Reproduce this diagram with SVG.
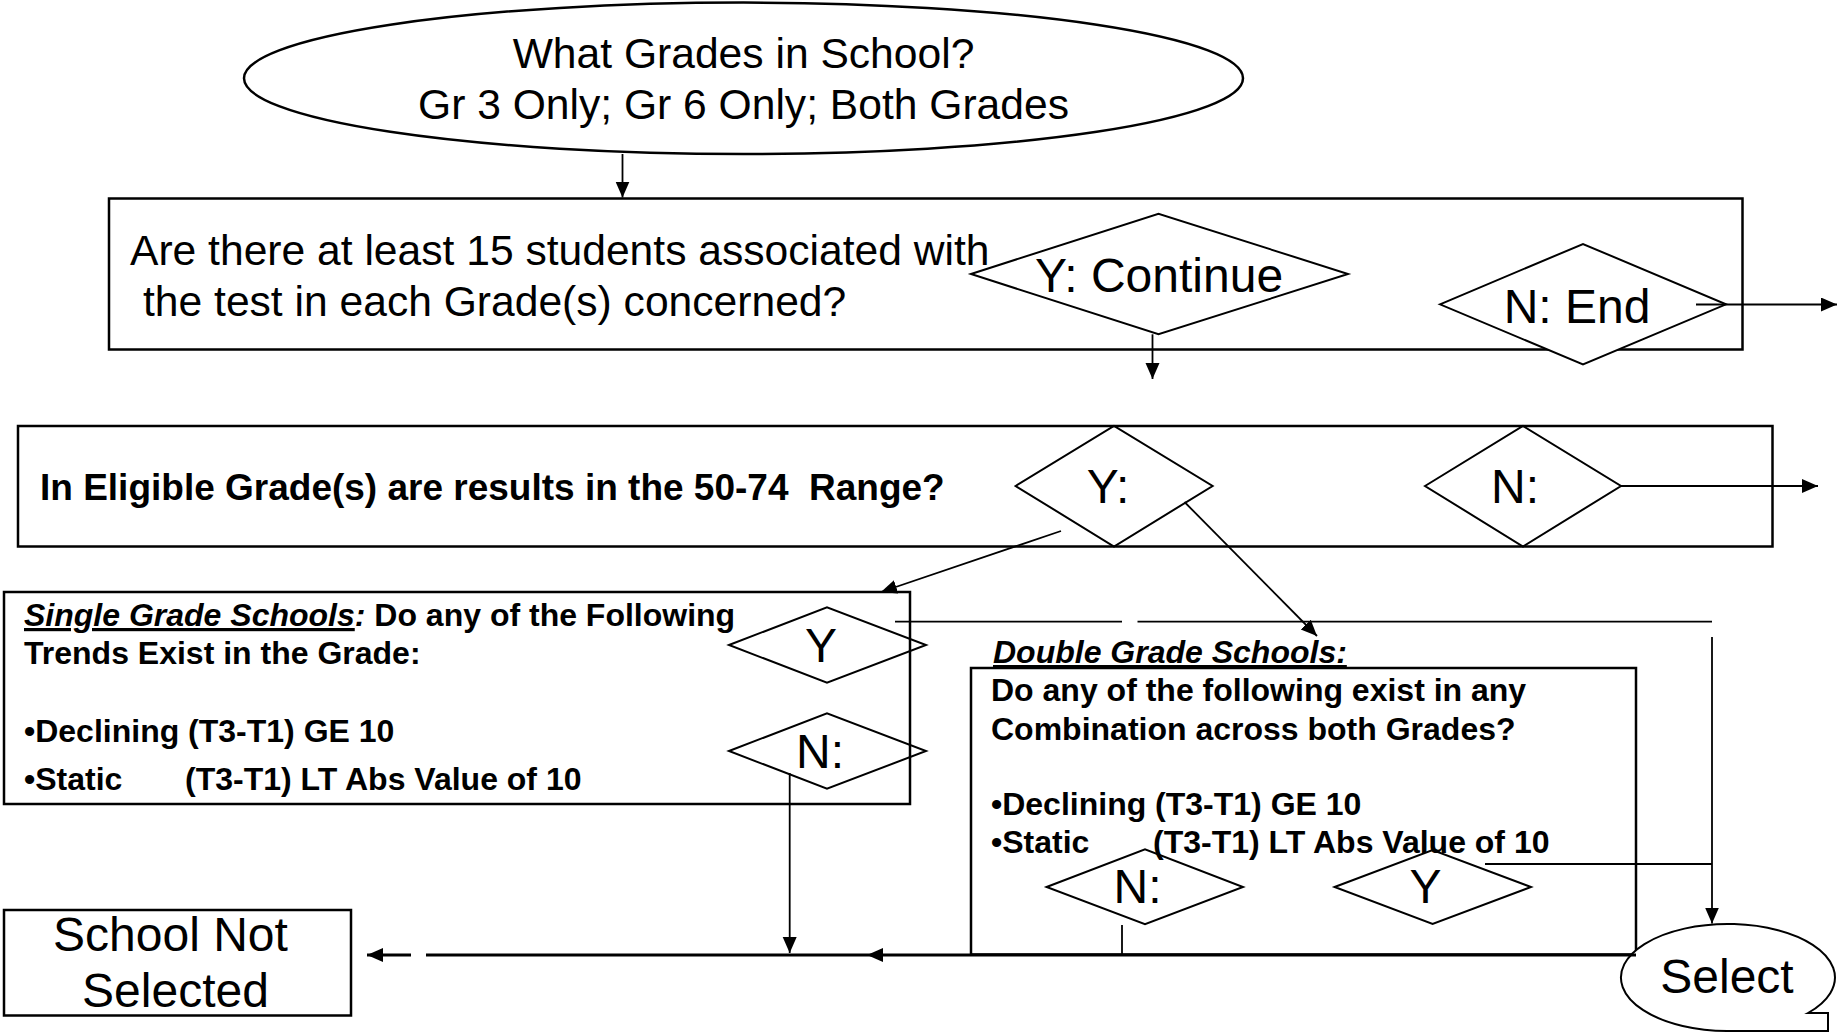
<svg xmlns="http://www.w3.org/2000/svg" width="1839" height="1034" viewBox="0 0 1839 1034">
<style>
text{font-family:"Liberation Sans",Arial,sans-serif;fill:#000}
.t{font-size:42.6px}
.d{font-size:48px}
.b{font-size:32px;font-weight:bold;white-space:pre}
.bb{font-size:37px;font-weight:bold;white-space:pre}
.box{fill:#fff;stroke:#000;stroke-width:2.5}
.dia{fill:none;stroke:#000;stroke-width:2}
.con{fill:none;stroke:#000;stroke-width:1.8}
.main{fill:none;stroke:#000;stroke-width:3}
</style>
<defs>
<marker id="ah" markerUnits="userSpaceOnUse" markerWidth="18" markerHeight="16" refX="16" refY="7" orient="auto">
<path d="M0,0 L16,7 L0,14 Z" fill="#000"/>
</marker>
</defs>
<rect width="1839" height="1034" fill="#fff"/>

<g id="start">
<ellipse cx="743.5" cy="78.3" rx="499.5" ry="75.7" class="box" stroke-width="2"/>
<text class="t" x="743.5" y="68" text-anchor="middle">What Grades in School?</text>
<text class="t" x="743.5" y="119" text-anchor="middle">Gr 3 Only; Gr 6 Only; Both Grades</text>
</g>

<g id="q1">
<rect x="109" y="198.5" width="1633.5" height="151" class="box"/>
<text class="t" x="130" y="265">Are there at least 15 students associated with</text>
<text class="t" x="143" y="316">the test in each Grade(s) concerned?</text>
</g>

<g id="q1-yes">
<polygon points="971,274 1158.5,213.7 1348,274 1158.5,334.3" class="dia"/>
<text class="d" x="1159" y="292" text-anchor="middle">Y: Continue</text>
</g>

<g id="q1-no">
<polygon points="1440,304.3 1583,244 1726,304.3 1583,364.5" class="dia" style="fill:#fff"/>
<text class="d" x="1577" y="322.5" text-anchor="middle">N: End</text>
</g>

<g id="q2">
<rect x="18" y="426" width="1754.5" height="120.5" class="box"/>
<text class="bb" x="40" y="500">In Eligible Grade(s) are results in the 50-74  Range?</text>
</g>

<g id="q2-yes">
<polygon points="1015.6,486 1114,426 1212.6,486 1114,546.5" class="dia"/>
<text class="d" x="1108" y="503" text-anchor="middle">Y:</text>
</g>

<g id="q2-no">
<polygon points="1425,486 1523,426 1621,486 1523,546.5" class="dia"/>
<text class="d" x="1515" y="503" text-anchor="middle">N:</text>
</g>

<g id="single">
<rect x="4" y="592" width="906" height="212" class="box"/>
<text class="b" x="24" y="626"><tspan font-style="italic" text-decoration="underline">Single Grade Schools</tspan><tspan font-style="italic">:</tspan> Do any of the Following</text>
<text class="b" x="24" y="664">Trends Exist in the Grade:</text>
<text class="b" x="24" y="742">•Declining (T3-T1) GE 10</text>
<text class="b" x="24" y="790">•Static<tspan x="185">(T3-T1) LT Abs Value of 10</tspan></text>
</g>

<g id="single-yes">
<polygon points="729,645 827,607.3 926,645 827,682.7" class="dia"/>
<text class="d" x="821" y="662" text-anchor="middle">Y</text>
</g>

<g id="single-no">
<polygon points="729,751 827,713.3 926,751 827,788.7" class="dia"/>
<text class="d" x="820" y="768" text-anchor="middle">N:</text>
</g>

<g id="double">
<rect x="971" y="668" width="665" height="286.5" class="box"/>
<text class="b" x="993" y="663" font-style="italic"><tspan text-decoration="underline">Double Grade Schools:</tspan></text>
<text class="b" x="991" y="701">Do any of the following exist in any</text>
<text class="b" x="991" y="739.5">Combination across both Grades?</text>
<text class="b" x="991" y="815">•Declining (T3-T1) GE 10</text>
<text class="b" x="991" y="853">•Static<tspan x="1153">(T3-T1) LT Abs Value of 10</tspan></text>
</g>

<g id="double-no">
<polygon points="1046.6,887 1145,849.3 1243,887 1145,924.3" class="dia"/>
<text class="d" x="1137.5" y="903" text-anchor="middle">N:</text>
</g>

<g id="double-yes">
<polygon points="1334.6,887 1432.6,850 1531,887 1432.6,924" class="dia"/>
<text class="d" x="1425.5" y="903" text-anchor="middle">Y</text>
</g>

<g id="not-selected">
<rect x="4" y="910" width="347" height="105.5" class="box"/>
<text class="d" x="170.5" y="951" text-anchor="middle">School Not</text>
<text class="d" x="175.5" y="1007" text-anchor="middle">Selected</text>
</g>

<g id="select">
<path d="M1727,1031 A107,53.5 0 1 1 1808,1013 L1828,1013 L1828,1031 Z" fill="#fff" stroke="#000" stroke-width="2"/>
<text class="d" x="1727" y="993" text-anchor="middle">Select</text>
</g>

<g id="connectors">
<path class="con" d="M622.5,154 V197.5" marker-end="url(#ah)"/>
<path class="con" d="M1152.5,334.3 V379" marker-end="url(#ah)"/>
<path class="con" d="M1696,304.5 H1837" marker-end="url(#ah)"/>
<path class="con" d="M1621,486 H1818" marker-end="url(#ah)"/>
<path class="con" d="M1061,531 L881,592" marker-end="url(#ah)"/>
<path class="con" d="M1184.5,502 L1317,636" marker-end="url(#ah)"/>
<path class="con" d="M895,621.6 H1122 M1137.5,621.6 H1712"/>
<path class="con" d="M1712,637 V923.5" marker-end="url(#ah)"/>
<path class="con" d="M1485,864 H1712"/>
<path class="con" d="M789.7,773 V953" marker-end="url(#ah)"/>
<path class="con" d="M1122,925 V955"/>
<path class="main" d="M1636,955 H867" marker-end="url(#ah)"/>
<path class="main" d="M867,955 H426"/>
<path class="main" d="M411,955 H367" marker-end="url(#ah)"/>
</g>
</svg>
